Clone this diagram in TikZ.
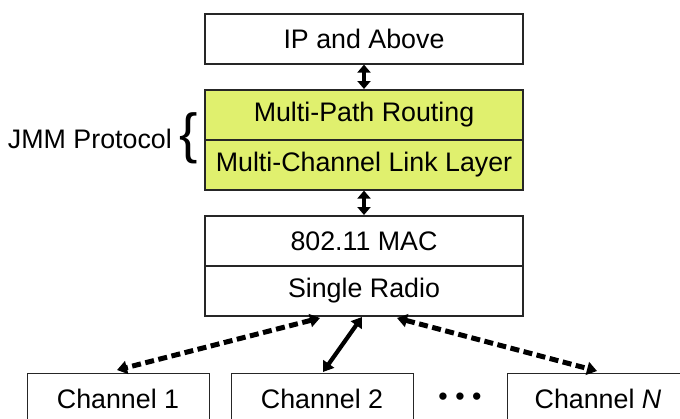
\documentclass[tikz,border=0pt]{standalone}
\usepackage{fontspec}
\setmainfont{Liberation Sans}
\usetikzlibrary{arrows.meta}
\definecolor{jmmyellow}{RGB}{224,240,110}
\begin{document}
\begin{tikzpicture}[x=1pt,y=-1pt,
  big/.style={font=\fontsize{26.8}{30}\selectfont},
  layer/.style={big,draw=black!85,line width=1.6pt,minimum width=318pt,minimum height=50pt,
    inner sep=0pt,anchor=north},
  chan/.style={draw=black!85,line width=1.4pt,minimum width=182pt,minimum height=60pt,
    inner sep=0pt,anchor=north west},
  stackarrow/.style={line width=4pt,{Triangle[length=8pt,width=13pt]}-{Triangle[length=8pt,width=13pt]}},
  linkarrow/.style={line width=4.2pt,{Triangle[length=10pt,width=13pt]}-{Triangle[length=10pt,width=13pt]}},
  dashlink/.style={linkarrow,line width=5pt,dash pattern=on 9pt off 4.5pt}]
\useasboundingbox (0,0) rectangle (680,418);
\clip (0,0) rectangle (680,418);

% protocol stack
\node[layer] (ip) at (364,13) {IP and Above};
\node[layer,fill=jmmyellow] (mpr) at (364,89) {Multi-Path Routing};
\node[layer,fill=jmmyellow] (mcl) at (364,139) {Multi-Channel Link Layer};
\node[layer] (mac) at (364,215) {802.11 MAC};
\node[layer] (radio) at (364,265) {Single Radio};

\draw[stackarrow] (ip.south) -- (mpr.north);
\draw[stackarrow] (mcl.south) -- (mac.north);

% JMM label with brace
\node[big,anchor=east,inner sep=0pt] (jmm) at (172,139) {JMM Protocol};
\node[font=\fontsize{55}{58}\selectfont,anchor=center,inner sep=0pt] (brace) at (189,138) {\{};

% channels
\node[chan] (c1) at (27,373) {};
\node[big] (t1) at (118,399) {Channel 1};
\node[chan] (c2) at (231,373) {};
\node[big] (t2) at (322,399) {Channel 2};
\node[chan] (cn) at (507,373) {};
\node[big] (tn) at (598,399) {Channel \textit{N}};
\node[big] (dots) at (460,399) {• • •};

\coordinate (r1) at (320,318);
\coordinate (r2) at (362,317);
\coordinate (r3) at (397,318);
\coordinate (e1) at (117,370);
\coordinate (e2) at (323,372);
\coordinate (e3) at (597,371);
\draw[dashlink] (r1) -- (e1);
\draw[linkarrow] (r2) -- (e2);
\draw[dashlink] (r3) -- (e3);
\end{tikzpicture}
\end{document}
